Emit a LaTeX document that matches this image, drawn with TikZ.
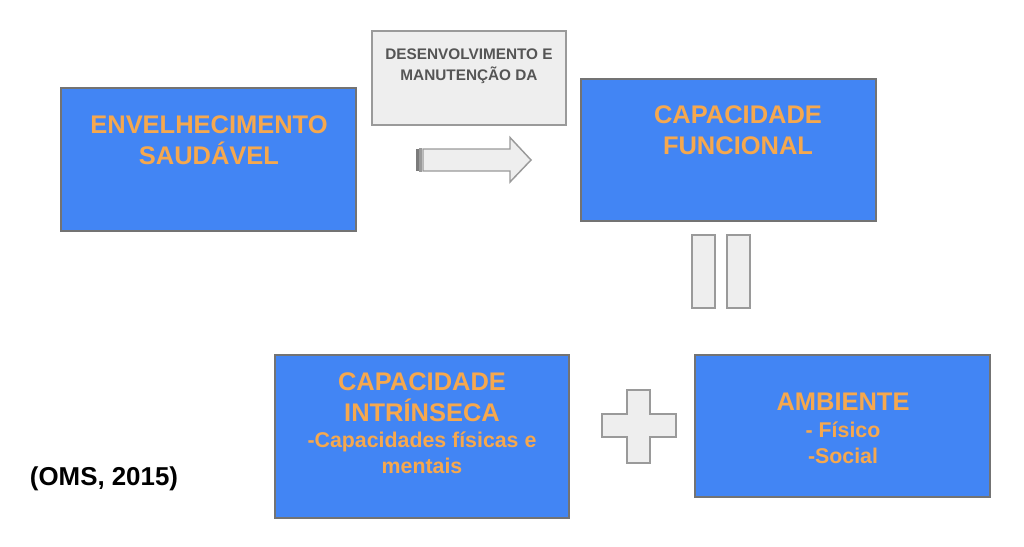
\documentclass[tikz,border=0pt]{standalone}
\usepackage{fontspec}
\setmainfont{Liberation Sans}
\definecolor{boxblue}{HTML}{4285F4}
\definecolor{txtorange}{HTML}{F6A84E}
\definecolor{shapegray}{HTML}{EEEEEE}
\definecolor{edgegray}{HTML}{9A9A9A}
\definecolor{darktxt}{HTML}{555555}

\tikzset{
	bluebox/.style={draw=black!55, line width=0.8pt, fill=boxblue, inner sep=0pt},
	greyshape/.style={draw=edgegray, line width=1.1pt, fill=shapegray},
	bigtxt/.style={text=txtorange, align=center, inner sep=0pt,
		font=\bfseries\fontsize{19.1}{23.25}\selectfont},
	smalltxt/.style={text=txtorange, align=center, inner sep=0pt,
		font=\bfseries\fontsize{16}{19.5}\selectfont},
	greytxt/.style={text=darktxt, align=center, inner sep=0pt,
		font=\bfseries\fontsize{11.5}{15.75}\selectfont},
}

\begin{document}
\begin{tikzpicture}[x=0.75pt, y=-0.75pt]
		\useasboundingbox (0,0) rectangle (1024,546);
		% caixas
		\node[bluebox, minimum width=221.25pt, minimum height=107.25pt] (envbox) at (208.5,159.5) {};
		\node[greyshape, inner sep=0pt, minimum width=145.5pt, minimum height=70.5pt] (devbox) at (469,78) {};
		\node[bluebox, minimum width=221.25pt, minimum height=106.5pt] (funcbox) at (728.5,150) {};
		\node[bluebox, minimum width=220.5pt, minimum height=122.25pt] (intrbox) at (422,436.5) {};
		\node[bluebox, minimum width=221.25pt, minimum height=106.5pt] (ambbox) at (842.5,426) {};
		% textos
		\node[bigtxt] (envtxt) at (209,140) {ENVELHECIMENTO\\SAUDÁVEL};
		\node[greytxt] (devtxt) at (469,66) {DESENVOLVIMENTO E\\MANUTENÇÃO DA};
		\node[bigtxt] (functxt) at (738,130) {CAPACIDADE\\FUNCIONAL};
		\node[bigtxt] (intrtxt) at (422,397) {CAPACIDADE\\INTRÍNSECA};
		\node[smalltxt] (intrsub) at (422,452.5) {-Capacidades físicas e\\mentais};
		\node[bigtxt] (ambtxt) at (843,401.5) {AMBIENTE};
		\node[smalltxt] (ambsub) at (843,442.5) {- Físico\\-Social};
		\node[font=\bfseries\fontsize{19.4}{23}\selectfont, inner sep=0pt] (oms) at (104,479) {(OMS, 2015)};
		% seta listrada
		\fill[edgegray!80!black] (416,149) rectangle (418.5,171);
		\draw[greyshape] (420,149) rectangle (421.5,171);
		\draw[greyshape] (423,149) -- (510,149) -- (510,137.5) -- (531,160) -- (510,182) -- (510,171) -- (423,171) -- cycle;
		% sinal de igual
		\draw[greyshape] (692,235) rectangle (715,308);
		\draw[greyshape] (727,235) rectangle (750,308);
		% sinal de mais
		\draw[greyshape] (627,390) -- (650,390) -- (650,414) -- (676,414) -- (676,437) -- (650,437)
			-- (650,463) -- (627,463) -- (627,437) -- (602,437) -- (602,414) -- (627,414) -- cycle;
	\end{tikzpicture}
\end{document}
